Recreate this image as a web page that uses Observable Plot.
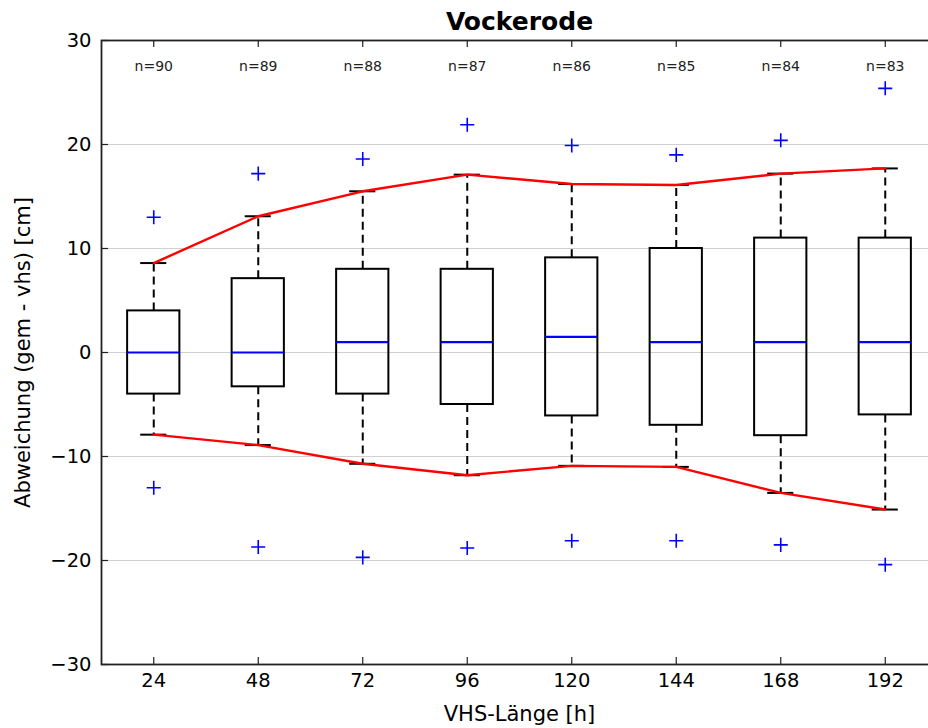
<!DOCTYPE html>
<html>
<head>
<meta charset="utf-8">
<script src="https://cdn.jsdelivr.net/npm/d3@7"></script>
<script src="https://cdn.jsdelivr.net/npm/@observablehq/plot@0.6"></script>
<style>
  html, body { margin: 0; padding: 0; background: #fff; }
  #chart svg { display: block; font-family: "DejaVu Sans", sans-serif; }
</style>
</head>
<body>
<div id="chart"></div>
<script>
const title = "Vockerode";
const xLabel = "VHS-Länge [h]";
const yLabel = "Abweichung (gem - vhs) [cm]";
const hours = [24, 48, 72, 96, 120, 144, 168, 192];
const counts = [90, 89, 88, 87, 86, 85, 84, 83];
const q1 = [-4, -3.3, -4, -5, -6.1, -7, -8, -6];
const q3 = [4, 7.1, 8, 8, 9.1, 10, 11, 11];
const medians = [0, 0, 1, 1, 1.5, 1, 1, 1];
const whiskerLow = [-7.9, -8.9, -10.7, -11.8, -10.9, -11, -13.5, -15.1];
const whiskerHigh = [8.6, 13.1, 15.5, 17.1, 16.2, 16.1, 17.2, 17.7];
const outlierHigh = [13, 17.2, 18.6, 21.9, 19.9, 19, 20.4, 25.4];
const outlierLow = [-13, -18.7, -19.7, -18.8, -18.1, -18.1, -18.5, -20.4];
const yTicks = [-30, -20, -10, 0, 10, 20, 30];
const xTicks = hours;

const boxHalf = 6;   // half box width in hours
const capHalf = 3;   // half whisker-cap width in hours

const rows = hours.map((h, i) => ({
  h, n: counts[i], q1: q1[i], q3: q3[i], med: medians[i],
  lo: whiskerLow[i], hi: whiskerHigh[i]
}));
const outliers = hours.flatMap((h, i) => [
  {h, v: outlierHigh[i]}, {h, v: outlierLow[i]}
]);

const W = 928, H = 728;
const mL = 101, mR = -9, mT = 40, mB = 64;
const plotH = H - mT - mB;
const plotW = W - mR - mL;
const tick = 7;

const chart = Plot.plot({
  width: W,
  height: H,
  marginLeft: mL,
  marginRight: mR,
  marginTop: mT,
  marginBottom: mB,
  style: {fontFamily: "DejaVu Sans, sans-serif", background: "white", overflow: "hidden"},
  x: {domain: [12, 204], axis: null},
  y: {domain: [-30, 30], axis: null},
  marks: [
    Plot.ruleY(yTicks.filter(d => d > -30 && d < 30), {y: d => d, stroke: "#d0d0d0", strokeWidth: 1.2}),
    // inward ticks
    Plot.ruleX(xTicks, {x: d => d, insetTop: plotH - tick, stroke: "#222", strokeWidth: 1.2}),
    Plot.ruleX(xTicks, {x: d => d, insetBottom: plotH - tick, stroke: "#222", strokeWidth: 1.2}),
    Plot.ruleY(yTicks, {y: d => d, insetRight: plotW - tick, stroke: "#222", strokeWidth: 1.2}),
    // whiskers
    Plot.ruleX(rows, {x: "h", y1: "q3", y2: "hi", stroke: "black", strokeWidth: 2, strokeDasharray: "8,5"}),
    Plot.ruleX(rows, {x: "h", y1: "q1", y2: "lo", stroke: "black", strokeWidth: 2, strokeDasharray: "8,5"}),
    Plot.ruleY(rows, {y: "hi", x1: d => d.h - capHalf, x2: d => d.h + capHalf, stroke: "black", strokeWidth: 2}),
    Plot.ruleY(rows, {y: "lo", x1: d => d.h - capHalf, x2: d => d.h + capHalf, stroke: "black", strokeWidth: 2}),
    // boxes
    Plot.rect(rows, {x1: d => d.h - boxHalf, x2: d => d.h + boxHalf, y1: "q1", y2: "q3", fill: "none", stroke: "black", strokeWidth: 2}),
    Plot.ruleY(rows, {y: "med", x1: d => d.h - boxHalf, x2: d => d.h + boxHalf, stroke: "#0000ff", strokeWidth: 2.2}),
    // red envelope lines
    Plot.line(rows, {x: "h", y: "hi", stroke: "#ff0000", strokeWidth: 2.4}),
    Plot.line(rows, {x: "h", y: "lo", stroke: "#ff0000", strokeWidth: 2.4}),
    // outliers
    Plot.dot(outliers, {x: "h", y: "v", symbol: "plus", r: 4.6, stroke: "#0000ff", strokeWidth: 1.6}),
    // counts
    Plot.text(rows, {x: "h", frameAnchor: "top", lineAnchor: "middle", dy: 26, text: d => `n=${d.n}`, fontSize: 14, fill: "#222"}),
    // frame
    Plot.frame({stroke: "#222", strokeWidth: 1.8}),
    // axes labels
    Plot.axisX(xTicks, {tickSize: 0, tickPadding: 9, fontSize: 19.5, fill: "black", label: null}),
    Plot.axisY(yTicks, {tickSize: 0, tickPadding: 10, fontSize: 19.5, fill: "black", label: null, tickFormat: d => d < 0 ? "\u2212" + Math.abs(d) : String(d)}),
    Plot.text([title], {frameAnchor: "top", lineAnchor: "middle", dy: -19, fontSize: 25, fontWeight: "bold", fill: "black"}),
    Plot.text([xLabel], {frameAnchor: "bottom", lineAnchor: "middle", dy: 50, fontSize: 21, fill: "black"}),
    Plot.text([yLabel], {frameAnchor: "left", textAnchor: "middle", lineAnchor: "middle", dx: -78, rotate: -90, fontSize: 21, fill: "black"})
  ]
});
document.getElementById("chart").appendChild(chart);
</script>
</body>
</html>
